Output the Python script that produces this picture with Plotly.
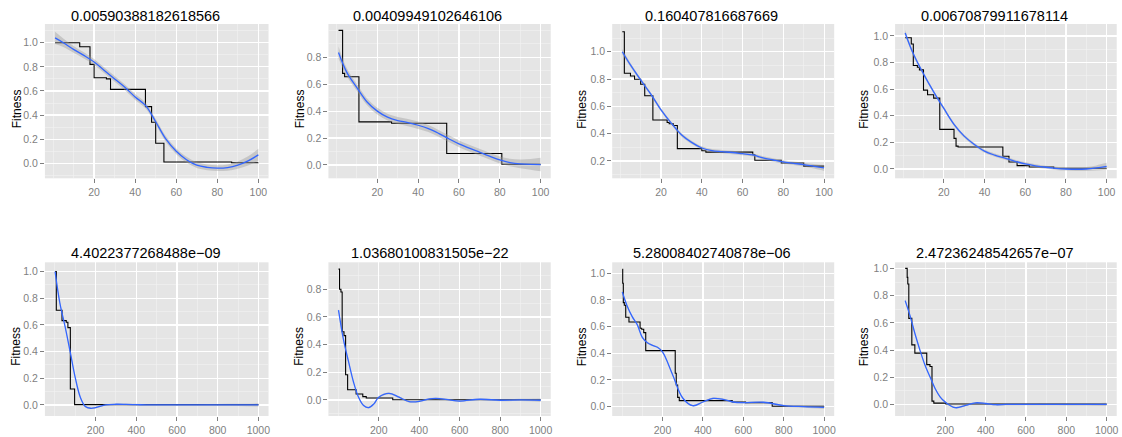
import plotly.graph_objects as go

W, H = 1122, 437

titles = ["0.00590388182618566", "0.00409949102646106", "0.160407816687669",
          "0.00670879911678114", "4.4022377268488e\u221209", "1.03680100831505e\u221222",
          "5.28008402740878e\u221206", "2.47236248542657e\u221207"]

top_ticks = [20, 40, 60, 80, 100]
bottom_ticks = [200, 400, 600, 800, 1000]

# ---- step (best fitness) series: x where each level starts, level value ----
p1_step_x = [1, 13, 18, 20, 26, 28, 45, 48, 50, 54, 87, 100]
p1_step_y = [1.0, 0.967, 0.82, 0.71, 0.70, 0.613, 0.47, 0.34, 0.166, 0.011, 0.005, 0.005]
p2_step_x = [1, 3, 4, 11, 27, 54, 81, 100]
p2_step_y = [1.0, 0.68, 0.655, 0.32, 0.31, 0.085, 0.005, 0.005]
p3_step_x = [1, 2, 5, 7, 10, 12, 16, 23, 24, 26, 28, 40, 42, 65, 66, 79, 90, 100]
p3_step_y = [1.146, 0.842, 0.822, 0.798, 0.762, 0.677, 0.50, 0.482, 0.472, 0.46, 0.29,
             0.275, 0.265, 0.246, 0.205, 0.185, 0.162, 0.162]
p4_step_x = [1, 4, 5, 7, 8, 10, 12, 15, 18, 25, 26, 27, 49, 52, 56, 62, 74, 100]
p4_step_y = [0.987, 0.94, 0.778, 0.765, 0.745, 0.593, 0.558, 0.533, 0.298, 0.23, 0.172,
             0.165, 0.096, 0.053, 0.025, 0.015, 0.005, 0.005]
p5_step_x = [1, 7, 35, 56, 64, 76, 97, 1000]
p5_step_y = [1.0, 0.71, 0.6325, 0.62, 0.58, 0.12, 0.002, 0.002]
p6_step_x = [1, 6, 13, 19, 28, 36, 46, 88, 121, 138, 269, 1000]
p6_step_y = [0.946, 0.80, 0.78, 0.493, 0.465, 0.182, 0.074, 0.043, 0.024, 0.014, 0.002, 0.002]
p7_step_x = [1, 3, 6, 11, 18, 34, 89, 97, 107, 117, 263, 268, 275, 283, 545, 611, 743, 1000]
p7_step_y = [1.03, 0.925, 0.78, 0.76, 0.67, 0.635, 0.5875, 0.58, 0.555, 0.42, 0.25, 0.1625,
             0.07, 0.045, 0.035, 0.03, 0.003, 0.003]
p8_step_x = [1, 11, 14, 19, 34, 49, 108, 124, 134, 143, 203, 1000]
p8_step_y = [1.0, 0.934, 0.885, 0.633, 0.438, 0.377, 0.293, 0.279, 0.0245, 0.0098, 0.003, 0.003]

# ---- smoothed fit and band half-width ----
top_sx = [1, 5, 10, 15, 20, 25, 30, 35, 40, 45, 50, 55, 60, 65, 70, 75, 80, 85, 90, 95, 100]
bottom_sx = [1, 25, 50, 75, 100, 125, 150, 175, 200, 250, 300, 350, 400, 450, 500, 550, 600,
             700, 800, 900, 1000]

p1_fit = [1.04, 1.0, 0.945, 0.895, 0.84, 0.77, 0.70, 0.63, 0.55, 0.48, 0.345, 0.2, 0.10, 0.03,
          -0.015, -0.033, -0.04, -0.035, -0.015, 0.02, 0.07]
p1_band = [0.05, 0.035, 0.028, 0.025, 0.024, 0.024, 0.024, 0.024, 0.024, 0.024, 0.024, 0.024,
           0.024, 0.024, 0.024, 0.024, 0.024, 0.026, 0.03, 0.038, 0.05]
p2_fit = [0.835, 0.69, 0.575, 0.468, 0.40, 0.355, 0.33, 0.315, 0.295, 0.27, 0.235, 0.195, 0.157,
          0.125, 0.095, 0.065, 0.037, 0.018, 0.008, 0.004, 0.003]
p2_band = [0.045, 0.03, 0.026, 0.025, 0.025, 0.025, 0.026, 0.027, 0.027, 0.026, 0.025, 0.025,
           0.025, 0.025, 0.025, 0.025, 0.026, 0.028, 0.032, 0.04, 0.05]
p3_fit = [1.0, 0.903, 0.793, 0.689, 0.574, 0.477, 0.392, 0.336, 0.295, 0.275, 0.268, 0.262,
          0.253, 0.244, 0.222, 0.207, 0.193, 0.183, 0.173, 0.161, 0.149]
p3_band = [0.02, 0.015, 0.012, 0.012, 0.012, 0.012, 0.012, 0.012, 0.012, 0.012, 0.012, 0.012,
           0.012, 0.012, 0.012, 0.012, 0.012, 0.013, 0.014, 0.017, 0.022]
p4_fit = [1.023, 0.866, 0.715, 0.58, 0.455, 0.336, 0.247, 0.184, 0.134, 0.104, 0.081, 0.058,
          0.038, 0.024, 0.013, 0.005, 0.0, -0.002, 0.0, 0.008, 0.02]
p4_band = [0.022, 0.016, 0.013, 0.012, 0.012, 0.012, 0.012, 0.012, 0.012, 0.012, 0.012, 0.012,
           0.012, 0.012, 0.012, 0.012, 0.012, 0.013, 0.015, 0.019, 0.026]
p5_fit = [1.0, 0.76, 0.59, 0.40, 0.205, 0.058, -0.0125, -0.025, -0.02, 0.0, 0.005, 0.004,
          0.002, 0.0, 0.0, 0.0, 0.0, 0.0, 0.0, 0.0, 0.0]
p6_fit = [0.65, 0.44, 0.28, 0.13, 0.02, -0.04, -0.055, -0.03, 0.02, 0.048, 0.02, -0.012,
          -0.01, 0.008, 0.01, 0.0, -0.008, 0.005, -0.002, 0.0, -0.002]
p7_fit = [0.86, 0.755, 0.675, 0.615, 0.52, 0.48, 0.46, 0.445, 0.41, 0.24, 0.065, 0.007, 0.035,
          0.062, 0.055, 0.035, 0.03, 0.033, 0.008, 0.0, -0.005]
p8_fit = [0.763, 0.653, 0.518, 0.396, 0.286, 0.2, 0.115, 0.054, 0.017, -0.024, -0.007, 0.012,
          0.007, -0.002, 0.0, 0.0, 0.0, 0.0, 0.0, 0.0, 0.0]
bottom_band = [0.012, 0.008, 0.007, 0.006, 0.006, 0.006, 0.006, 0.006, 0.006, 0.006, 0.006,
               0.006, 0.006, 0.006, 0.006, 0.006, 0.006, 0.006, 0.007, 0.008, 0.012]

# ---- layout geometry (pixels) ----
col_px = [(45, 269), (329, 551.7), (613.3, 835.7), (896.7, 1118.7)]
row_px = [(24, 178.3), (262.3, 416)]
y_ranges = [(-0.124, 1.155), (-0.099, 1.047), (0.073, 1.203), (-0.07, 1.09),
            (-0.083, 1.07), (-0.116, 0.995), (-0.07, 1.0825), (-0.085, 1.045)]
y_tickvals = [[0, 0.2, 0.4, 0.6, 0.8, 1.0], [0, 0.2, 0.4, 0.6, 0.8],
              [0.2, 0.4, 0.6, 0.8, 1.0], [0, 0.2, 0.4, 0.6, 0.8, 1.0],
              [0, 0.2, 0.4, 0.6, 0.8, 1.0], [0, 0.2, 0.4, 0.6, 0.8],
              [0, 0.2, 0.4, 0.6, 0.8, 1.0], [0, 0.2, 0.4, 0.6, 0.8, 1.0]]
title_px = [(146, 16), (428.5, 16), (713, 16), (996, 16),
            (146, 253.5), (430.5, 253.5), (713, 253.5), (996.5, 253.5)]
ylab_px = [(16.5, 108.8), (300, 108.8), (583, 108.8), (865.5, 108.8),
           (16.5, 346.3), (300, 346.3), (583, 346.3), (865.5, 346.3)]

steps = [(p1_step_x, p1_step_y), (p2_step_x, p2_step_y), (p3_step_x, p3_step_y),
         (p4_step_x, p4_step_y), (p5_step_x, p5_step_y), (p6_step_x, p6_step_y),
         (p7_step_x, p7_step_y), (p8_step_x, p8_step_y)]
fits = [(top_sx, p1_fit, p1_band), (top_sx, p2_fit, p2_band), (top_sx, p3_fit, p3_band),
        (top_sx, p4_fit, p4_band), (bottom_sx, p5_fit, bottom_band),
        (bottom_sx, p6_fit, bottom_band), (bottom_sx, p7_fit, bottom_band),
        (bottom_sx, p8_fit, bottom_band)]

FONT = "Liberation Sans, Arial, Helvetica, sans-serif"
BG = "#E5E5E5"
GRID = "#FFFFFF"
MINOR = "#F2F2F2"
TICKC = "#7F7F7F"

fig = go.Figure()
layout = dict(width=W, height=H, margin=dict(l=0, r=0, t=0, b=0),
              paper_bgcolor="white", plot_bgcolor=BG, showlegend=False,
              font=dict(family=FONT), annotations=[])

for i in range(8):
    r, c = divmod(i, 4)
    xs = "" if i == 0 else str(i + 1)
    xa, ya = "x" + xs, "y" + xs
    top = r == 0
    xr = (-3.95, 104.95) if top else (-48.95, 1049.95)
    xt = top_ticks if top else bottom_ticks
    mdx = 10 if top else 100

    sx, sy = steps[i]
    fx, fy, fb = fits[i]
    upper = [a + b for a, b in zip(fy, fb)]
    lower = [a - b for a, b in zip(fy, fb)]

    fig.add_trace(go.Scatter(x=sx, y=sy, mode="lines", line=dict(color="black", width=1.1, shape="hv"),
                             xaxis=xa, yaxis=ya, hoverinfo="skip"))
    fig.add_trace(go.Scatter(x=fx, y=lower, mode="lines", line=dict(width=0, shape="spline"),
                             xaxis=xa, yaxis=ya, hoverinfo="skip"))
    fig.add_trace(go.Scatter(x=fx, y=upper, mode="lines", line=dict(width=0, shape="spline"),
                             fill="tonexty", fillcolor="rgba(153,153,153,0.4)",
                             xaxis=xa, yaxis=ya, hoverinfo="skip"))
    fig.add_trace(go.Scatter(x=fx, y=fy, mode="lines", line=dict(color="#3366FF", width=1.3, shape="spline"),
                             xaxis=xa, yaxis=ya, hoverinfo="skip"))

    x0, x1 = col_px[c]
    y0, y1 = row_px[r]
    layout["xaxis" + xs] = dict(
        domain=[x0 / W, x1 / W], range=list(xr), anchor=ya,
        tickmode="array", tickvals=xt, ticks="outside", ticklen=4, tickwidth=1,
        tickcolor=TICKC, tickfont=dict(size=10.5, color=TICKC, family=FONT),
        showgrid=True, gridcolor=GRID, gridwidth=1.2, zeroline=False, showline=False,
        minor=dict(tickmode="linear", tick0=0, dtick=mdx, showgrid=True,
                   gridcolor=MINOR, gridwidth=0.6, ticks=""),
        fixedrange=True)
    layout["yaxis" + xs] = dict(
        domain=[1 - y1 / H, 1 - y0 / H], range=list(y_ranges[i]), anchor=xa,
        tickmode="array", tickvals=y_tickvals[i], tickformat=".1f",
        ticks="outside", ticklen=4, tickwidth=1, tickcolor=TICKC,
        tickfont=dict(size=10.5, color=TICKC, family=FONT),
        showgrid=True, gridcolor=GRID, gridwidth=1.2, zeroline=False, showline=False,
        minor=dict(tickmode="linear", tick0=0, dtick=0.1, showgrid=True,
                   gridcolor=MINOR, gridwidth=0.6, ticks=""),
        fixedrange=True)

    tx, ty = title_px[i]
    layout["annotations"].append(dict(
        text=titles[i], x=tx / W, y=1 - ty / H, xref="paper", yref="paper",
        xanchor="center", yanchor="middle", showarrow=False,
        font=dict(size=14.5, color="black", family=FONT)))
    lx, ly = ylab_px[i]
    layout["annotations"].append(dict(
        text="Fitness", x=lx / W, y=1 - ly / H, xref="paper", yref="paper",
        xanchor="center", yanchor="middle", showarrow=False, textangle=-90,
        font=dict(size=12, color="black", family=FONT)))

fig.update_layout(**layout)
fig.write_html("out.html",
               config={"displayModeBar": False, "staticPlot": True},
               post_script="document.body.style.margin='0';document.body.style.padding='0';"
                           "document.body.style.overflow='hidden';")
